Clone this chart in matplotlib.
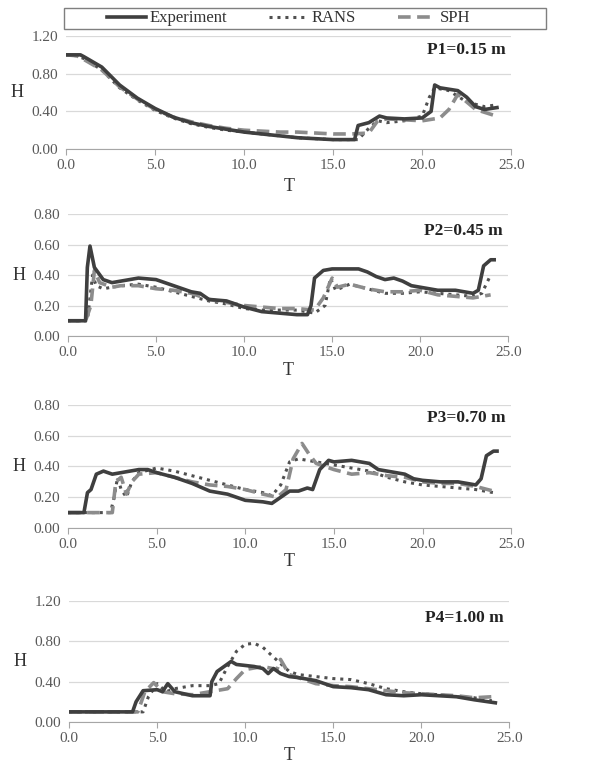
import matplotlib
matplotlib.use("Agg")
import matplotlib.pyplot as plt
from matplotlib.patches import Rectangle
import numpy as np

plt.rcParams['font.family'] = ['Liberation Serif', 'DejaVu Serif']

# ---- data ----
# P1 = 0.15 m
p1_exp_t = [0, 0.8, 1, 2, 3, 4, 5, 6, 7, 8, 9, 10, 11, 12, 13, 14, 15, 16.2, 16.4, 17, 17.6, 18, 19, 20, 20.5, 20.7, 21, 22, 22.5, 23, 23.5, 24.2]
p1_exp_h = [1.0, 1.0, 0.98, 0.87, 0.68, 0.54, 0.43, 0.34, 0.28, 0.24, 0.21, 0.18, 0.16, 0.14, 0.12, 0.11, 0.10, 0.10, 0.25, 0.28, 0.35, 0.33, 0.32, 0.33, 0.40, 0.68, 0.65, 0.62, 0.55, 0.45, 0.42, 0.44]
p1_rans_t = [0, 0.6, 1, 2, 3, 4, 5, 6, 7, 8, 9, 10, 11, 12, 13, 14, 15, 16.4, 17, 17.5, 18, 19, 20, 20.4, 20.7, 21.5, 22.5, 23.5, 24.2]
p1_rans_h = [1.0, 0.99, 0.96, 0.84, 0.65, 0.52, 0.41, 0.33, 0.27, 0.23, 0.20, 0.18, 0.16, 0.14, 0.12, 0.11, 0.10, 0.10, 0.22, 0.30, 0.28, 0.30, 0.35, 0.55, 0.65, 0.62, 0.50, 0.45, 0.47]
p1_sph_t = [0, 0.6, 1, 2, 3, 4, 5, 6, 7, 8, 9, 10, 11, 12, 13, 14, 15, 16, 17, 17.5, 18, 19, 20, 21, 21.5, 22, 22.5, 23, 24]
p1_sph_h = [1.0, 0.99, 0.95, 0.84, 0.66, 0.53, 0.42, 0.34, 0.29, 0.25, 0.22, 0.20, 0.19, 0.18, 0.18, 0.17, 0.16, 0.16, 0.17, 0.30, 0.32, 0.31, 0.30, 0.33, 0.42, 0.58, 0.50, 0.42, 0.36]

# P2 = 0.45 m
p2_exp_t = [0, 1.0, 1.1, 1.25, 1.5, 2, 2.5, 3, 4, 5, 6, 7, 7.5, 8, 9, 10, 11, 12, 13, 13.6, 13.8, 14, 14.5, 15, 16, 16.5, 17, 17.5, 18, 18.5, 19, 19.5, 20, 21, 22, 23, 23.3, 23.6, 24, 24.2]
p2_exp_h = [0.10, 0.10, 0.45, 0.59, 0.45, 0.37, 0.35, 0.36, 0.38, 0.37, 0.33, 0.29, 0.28, 0.24, 0.23, 0.19, 0.16, 0.15, 0.14, 0.14, 0.20, 0.38, 0.43, 0.44, 0.44, 0.44, 0.42, 0.39, 0.37, 0.38, 0.36, 0.33, 0.32, 0.30, 0.30, 0.28, 0.30, 0.46, 0.50, 0.50]
p2_rans_t = [0, 1.1, 1.2, 1.4, 1.6, 2, 3, 4, 5, 6, 7, 8, 9, 10, 11, 12, 13, 13.5, 14, 14.6, 14.9, 15.2, 16, 17, 18, 19, 20, 21, 22, 23, 23.5, 24]
p2_rans_h = [0.10, 0.10, 0.20, 0.40, 0.33, 0.31, 0.33, 0.34, 0.32, 0.29, 0.26, 0.23, 0.21, 0.18, 0.17, 0.17, 0.17, 0.16, 0.15, 0.20, 0.38, 0.30, 0.34, 0.31, 0.28, 0.28, 0.29, 0.28, 0.27, 0.26, 0.28, 0.40]
p2_sph_t = [0, 1.0, 1.3, 1.5, 1.8, 2.5, 3, 4, 5, 6, 7, 8, 9, 10, 11, 12, 13, 14, 14.5, 15, 15.3, 16, 17, 18, 19, 20, 21, 22, 23, 24]
p2_sph_h = [0.10, 0.10, 0.20, 0.43, 0.35, 0.32, 0.33, 0.33, 0.31, 0.30, 0.28, 0.24, 0.22, 0.20, 0.19, 0.18, 0.18, 0.17, 0.25, 0.38, 0.32, 0.34, 0.31, 0.29, 0.29, 0.30, 0.27, 0.26, 0.25, 0.27]

# P3 = 0.70 m
p3_exp_t = [0, 0.9, 1.1, 1.3, 1.6, 2, 2.5, 3, 4, 4.5, 5, 6, 7, 8, 9, 10, 11, 11.5, 12, 12.5, 13, 13.5, 13.8, 14.2, 14.7, 15, 16, 17, 17.5, 18, 19, 19.5, 20, 21, 22, 23, 23.3, 23.6, 24, 24.2]
p3_exp_h = [0.10, 0.10, 0.23, 0.25, 0.35, 0.37, 0.35, 0.36, 0.38, 0.38, 0.36, 0.33, 0.29, 0.24, 0.22, 0.18, 0.17, 0.16, 0.20, 0.24, 0.24, 0.26, 0.25, 0.38, 0.44, 0.43, 0.44, 0.42, 0.38, 0.37, 0.35, 0.32, 0.31, 0.30, 0.30, 0.28, 0.32, 0.47, 0.50, 0.50]
p3_rans_t = [0, 2.4, 2.6, 2.8, 3, 3.3, 3.6, 4, 5, 6, 7, 8, 9, 10, 11, 11.5, 12, 12.5, 13, 14, 15, 16, 17, 18, 19, 20, 21, 22, 23, 24]
p3_rans_h = [0.10, 0.10, 0.20, 0.33, 0.25, 0.20, 0.30, 0.36, 0.39, 0.37, 0.34, 0.31, 0.28, 0.25, 0.23, 0.21, 0.28, 0.43, 0.45, 0.43, 0.41, 0.39, 0.37, 0.33, 0.30, 0.28, 0.27, 0.26, 0.25, 0.23]
p3_sph_t = [0, 2.5, 2.7, 3, 3.3, 3.6, 4, 5, 6, 7, 8, 9, 10, 11, 11.8, 12.3, 12.7, 13.2, 13.6, 14, 15, 16, 17, 18, 19, 20, 21, 22, 23, 24]
p3_sph_h = [0.10, 0.10, 0.30, 0.33, 0.22, 0.30, 0.35, 0.36, 0.33, 0.30, 0.28, 0.27, 0.25, 0.22, 0.20, 0.25, 0.45, 0.55, 0.48, 0.42, 0.38, 0.35, 0.36, 0.34, 0.33, 0.30, 0.29, 0.29, 0.27, 0.24]

# P4 = 1.00 m
p4_exp_t = [0, 3.6, 3.8, 4.2, 5, 5.3, 5.6, 6, 7, 8, 8.1, 8.4, 8.8, 9.2, 9.5, 10, 10.5, 11, 11.3, 11.6, 12, 12.5, 13, 14, 15, 16, 17, 18, 19, 20, 21, 22, 23, 24.2]
p4_exp_h = [0.10, 0.10, 0.20, 0.31, 0.32, 0.30, 0.38, 0.30, 0.26, 0.26, 0.40, 0.50, 0.55, 0.60, 0.57, 0.56, 0.55, 0.53, 0.48, 0.53, 0.48, 0.45, 0.44, 0.41, 0.35, 0.34, 0.32, 0.27, 0.26, 0.27, 0.26, 0.25, 0.22, 0.19]
p4_rans_t = [0, 4.2, 4.5, 5, 5.5, 6, 7, 8, 8.5, 9, 9.5, 10, 10.5, 11, 11.5, 12, 12.5, 13, 14, 15, 16, 17, 18, 19, 20, 21, 22, 23, 24]
p4_rans_h = [0.10, 0.10, 0.25, 0.38, 0.30, 0.33, 0.36, 0.36, 0.38, 0.55, 0.70, 0.77, 0.78, 0.74, 0.66, 0.58, 0.50, 0.47, 0.45, 0.43, 0.42, 0.38, 0.33, 0.30, 0.28, 0.27, 0.25, 0.24, 0.21]
p4_sph_t = [0, 3.9, 4.3, 4.8, 5.3, 6, 7, 8, 9, 9.5, 10, 11, 11.8, 12, 12.5, 13, 14, 15, 16, 17, 18, 19, 20, 21, 22, 23, 24]
p4_sph_h = [0.10, 0.10, 0.30, 0.39, 0.30, 0.28, 0.27, 0.30, 0.33, 0.43, 0.52, 0.55, 0.52, 0.62, 0.47, 0.44, 0.38, 0.36, 0.35, 0.33, 0.31, 0.29, 0.28, 0.27, 0.26, 0.24, 0.25]

panels = [
    ("P1=0.15 m", (p1_exp_t, p1_exp_h), (p1_rans_t, p1_rans_h), (p1_sph_t, p1_sph_h), [0.0, 0.4, 0.8, 1.2]),
    ("P2=0.45 m", (p2_exp_t, p2_exp_h), (p2_rans_t, p2_rans_h), (p2_sph_t, p2_sph_h), [0.0, 0.2, 0.4, 0.6, 0.8]),
    ("P3=0.70 m", (p3_exp_t, p3_exp_h), (p3_rans_t, p3_rans_h), (p3_sph_t, p3_sph_h), [0.0, 0.2, 0.4, 0.6, 0.8]),
    ("P4=1.00 m", (p4_exp_t, p4_exp_h), (p4_rans_t, p4_rans_h), (p4_sph_t, p4_sph_h), [0.0, 0.4, 0.8, 1.2]),
]

# axes rectangles in figure fractions (left, bottom, width, height)
rects = [
    [0.112, 0.8067, 0.753, 0.1466],
    [0.115, 0.5642, 0.745, 0.1582],
    [0.115, 0.3152, 0.750, 0.1595],
    [0.117, 0.0636, 0.745, 0.1570],
]
label_y = [0.876, 0.86, 0.894, 0.86]
xlabel_pad = [4, 2, 1, 1]

fig = plt.figure(figsize=(5.91, 7.71), dpi=100)

exp_color = '#3f3f3f'
rans_color = '#505050'
sph_color = '#8c8c8c'
tick_color = '#595959'

for (name, exp, rans, sph, yt), rect, ly, xp in zip(panels, rects, label_y, xlabel_pad):
    ax = fig.add_axes(rect)
    l1, = ax.plot(exp[0], exp[1], color=exp_color, lw=2.6, label='Experiment', zorder=3)
    l2, = ax.plot(rans[0], rans[1], color=rans_color, lw=2.2, ls=(0, (1, 1.6)), label='RANS', zorder=2)
    l3, = ax.plot(sph[0], sph[1], color=sph_color, lw=2.6, ls=(0, (3.5, 1.8)), label='SPH', zorder=2)
    ax.set_xlim(0, 25)
    ax.set_ylim(0, yt[-1])
    ax.set_xticks(np.arange(0, 25.1, 5))
    ax.set_xticklabels([f"{v:.1f}" for v in np.arange(0, 25.1, 5)])
    ax.set_yticks(yt)
    ax.set_yticklabels([f"{v:.2f}" for v in yt])
    ax.grid(axis='y', color='#d9d9d9', lw=0.9)
    ax.set_axisbelow(True)
    for s in ['top', 'right', 'left']:
        ax.spines[s].set_visible(False)
    ax.spines['bottom'].set_color('#a6a6a6')
    ax.tick_params(axis='x', colors='#a6a6a6', labelcolor=tick_color, labelsize=11, length=4, direction='out')
    ax.tick_params(axis='y', length=0, labelcolor=tick_color, labelsize=11, pad=6)
    ax.set_ylabel('H', rotation=0, fontsize=13, color='#333333', labelpad=10, va='center')
    ax.set_xlabel('T', fontsize=13, color='#333333', labelpad=xp)
    ax.text(0.987, ly, name, transform=ax.transAxes, ha='right', va='center',
            fontsize=12.5, fontweight='bold', color='#222222',
            bbox=dict(facecolor='white', edgecolor='none', pad=2))

# legend box across the top
fig.patches.append(Rectangle((64 / 591, 1 - 29 / 771), (546 - 64) / 591, 21 / 771,
                             transform=fig.transFigure, fill=False,
                             edgecolor='#7f7f7f', lw=1.0))
leg = fig.legend(handles=[l1, l2, l3], loc='center', ncol=3,
                 bbox_to_anchor=(289 / 591, 1 - 18.5 / 771), fontsize=12,
                 frameon=False, handlelength=2.3, handletextpad=0.25,
                 columnspacing=2.5, borderpad=0, borderaxespad=0)
for t in leg.get_texts():
    t.set_color('#333333')

fig.savefig('out.png', dpi=100)
